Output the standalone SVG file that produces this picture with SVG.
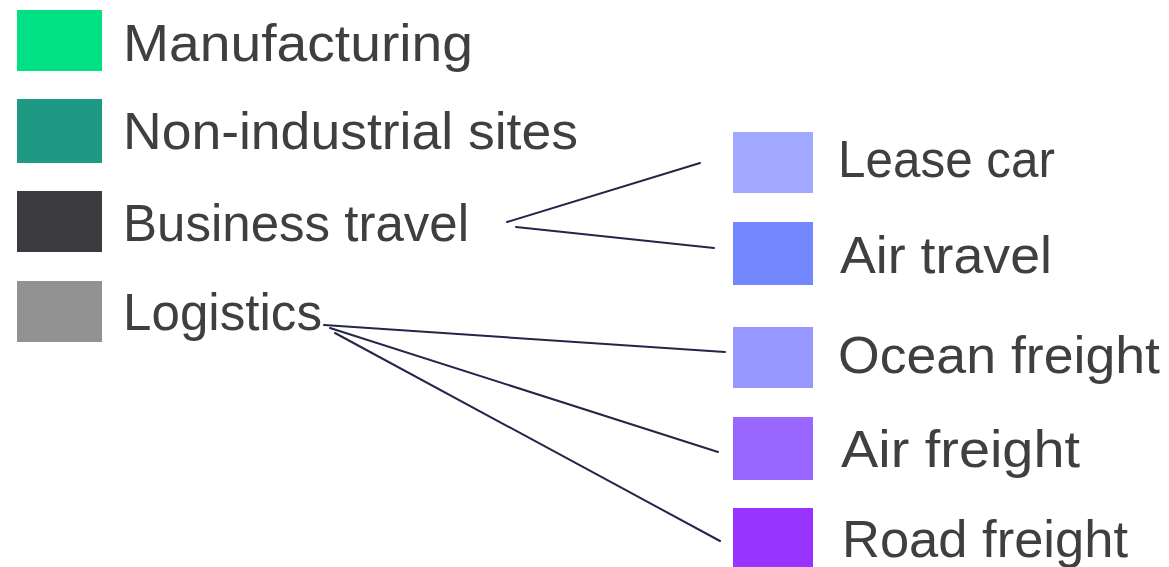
<svg xmlns="http://www.w3.org/2000/svg" width="1169" height="567" viewBox="0 0 1169 567">
<style>
.lbl{font-family:"Liberation Sans",Arial,sans-serif;font-size:52px;fill:#3f3f42}
.ln{stroke:#25254a;stroke-width:2;fill:none;stroke-linecap:round}
</style>
<rect width="1169" height="567" fill="#ffffff"/>
<g id="manufacturing"><rect x="17" y="10" width="85" height="61" fill="#00e084"/><text class="lbl" x="123" y="61" textLength="350" lengthAdjust="spacingAndGlyphs">Manufacturing</text></g>
<g id="non-industrial"><rect x="17" y="99" width="85" height="64" fill="#1e9a84"/><text class="lbl" x="123" y="149" textLength="455" lengthAdjust="spacingAndGlyphs">Non-industrial sites</text></g>
<g id="business-travel"><rect x="17" y="191" width="85" height="61" fill="#3a3a3f"/><text class="lbl" x="123" y="241" textLength="346" lengthAdjust="spacingAndGlyphs">Business travel</text></g>
<g id="logistics"><rect x="17" y="281" width="85" height="61" fill="#929292"/><text class="lbl" x="123" y="330" textLength="199" lengthAdjust="spacingAndGlyphs">Logistics</text></g>
<g id="lease-car"><rect x="733" y="132" width="80" height="61" fill="#a1a8ff"/><text class="lbl" x="838" y="177" textLength="217" lengthAdjust="spacingAndGlyphs">Lease car</text></g>
<g id="air-travel"><rect x="733" y="222" width="80" height="63" fill="#7388ff"/><text class="lbl" x="840" y="273" textLength="212" lengthAdjust="spacingAndGlyphs">Air travel</text></g>
<g id="ocean-freight"><rect x="733" y="327" width="80" height="61" fill="#9896ff"/><text class="lbl" x="838" y="373" textLength="322" lengthAdjust="spacingAndGlyphs">Ocean freight</text></g>
<g id="air-freight"><rect x="733" y="417" width="80" height="63" fill="#9966ff"/><text class="lbl" x="841" y="467" textLength="239" lengthAdjust="spacingAndGlyphs">Air freight</text></g>
<g id="road-freight"><rect x="733" y="508" width="80" height="59" fill="#9933ff"/><text class="lbl" x="842" y="557" textLength="286" lengthAdjust="spacingAndGlyphs">Road freight</text></g>
<g id="connectors">
<line class="ln" x1="507" y1="222" x2="700" y2="163"/>
<line class="ln" x1="516" y1="227" x2="714" y2="248"/>
<line class="ln" x1="324" y1="325" x2="725" y2="352"/>
<line class="ln" x1="330" y1="328" x2="718" y2="452"/>
<line class="ln" x1="335" y1="333" x2="720" y2="541"/>
</g>
</svg>
